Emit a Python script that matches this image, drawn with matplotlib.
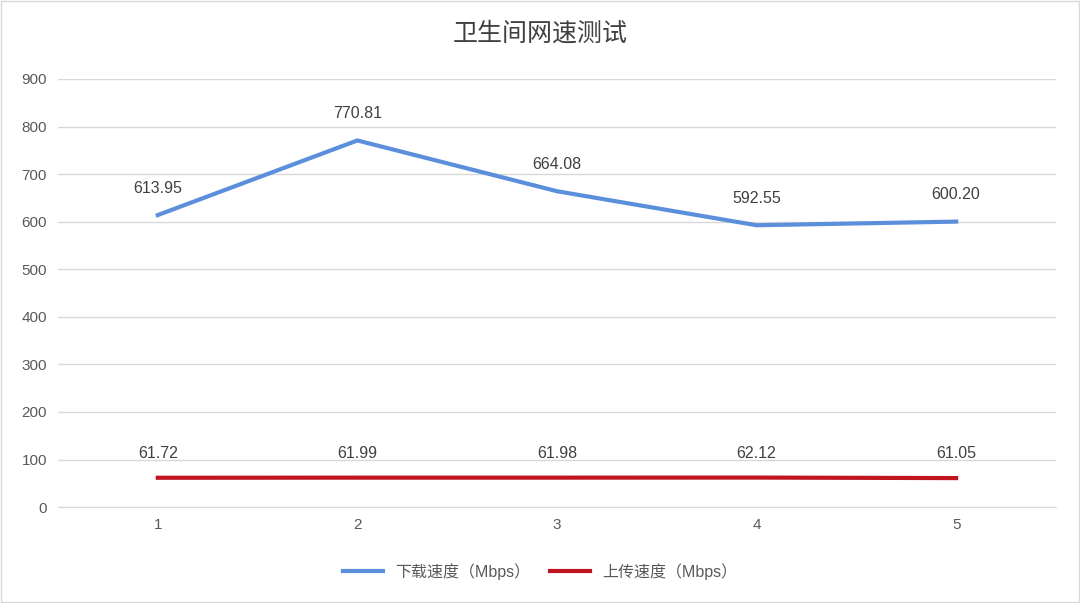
import matplotlib.pyplot as plt
from matplotlib.patches import Rectangle

plt.rcParams['font.family'] = ['Liberation Sans', 'Noto Sans CJK SC', 'DejaVu Sans']

tests = [1, 2, 3, 4, 5]
download = [613.95, 770.81, 664.08, 592.55, 600.20]
upload = [61.72, 61.99, 61.98, 62.12, 61.05]

fig = plt.figure(figsize=(10.8, 6.03), dpi=100)
fig.patches.append(Rectangle((0.001, 0.001), 0.998, 0.998, transform=fig.transFigure,
                             fill=False, edgecolor='#d9d9d9', linewidth=1))
ax = fig.add_axes([0.0537, 0.159, 0.924, 0.710])

ax.plot(tests, download, color='#5b8fdc', linewidth=3, label='下载速度（Mbps）')
ax.plot(tests, upload, color='#c0141e', linewidth=3, label='上传速度（Mbps）')

for x, y in zip(tests, download):
    ax.annotate(f'{y:.2f}', (x, y), xytext=(0, 14), textcoords='offset points',
                ha='center', va='bottom', fontsize=11.5, color='#404040')
for x, y in zip(tests, upload):
    ax.annotate(f'{y:.2f}', (x, y), xytext=(0, 12), textcoords='offset points',
                ha='center', va='bottom', fontsize=11.5, color='#404040')

ax.set_xlim(0.5, 5.5)
ax.set_ylim(0, 900)
ax.set_yticks(range(0, 901, 100))
ax.set_xticks(tests)
ax.grid(axis='y', color='#d9d9d9', linewidth=1)
ax.set_axisbelow(True)
for side in ['top', 'right', 'left']:
    ax.spines[side].set_visible(False)
ax.spines['bottom'].set_color('#d9d9d9')
ax.tick_params(length=0, labelsize=11, labelcolor='#595959', pad=8)

fig.text(0.5, 0.945, '卫生间网速测试', ha='center', va='center', fontsize=18,
         color='#404040', family=['Noto Sans CJK SC', 'DejaVu Sans'])
fig.legend(loc='center', bbox_to_anchor=(0.5, 0.052), ncol=2, frameon=False,
           fontsize=11.5, labelcolor='#595959', handlelength=2.5, columnspacing=1.2,
           prop={'family': ['Liberation Sans', 'Noto Sans CJK SC'], 'size': 11.5})

fig.savefig('out.png')
